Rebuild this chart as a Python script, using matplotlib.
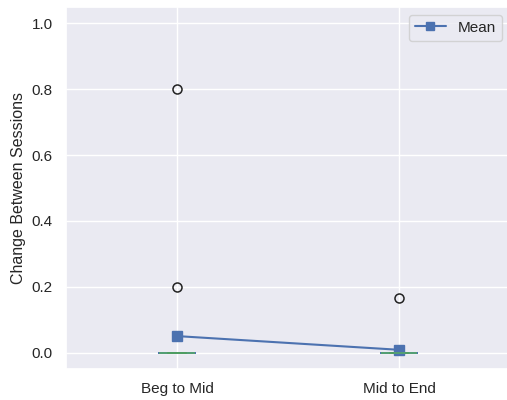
import matplotlib
matplotlib.use("Agg")
import matplotlib.pyplot as plt
import seaborn as sns
import numpy as np

sns.set_theme(style="darkgrid")
plt.rcParams['font.family'] = ['Liberation Sans', 'DejaVu Sans']

categories = ["Beg to Mid", "Mid to End"]
beg_to_mid = [0.0] * 18 + [0.2, 0.8]
mid_to_end = [0.0] * 19 + [1 / 6]
series = [beg_to_mid, mid_to_end]
means = [float(np.mean(s)) for s in series]
ylabel = "Change Between Sessions"

fig = plt.figure(figsize=(5.07, 4.0), dpi=100)
ax = fig.add_axes([66 / 507, 31 / 400, 444 / 507, 362 / 400])

positions = np.arange(1, len(categories) + 1)
ax.boxplot(series, positions=positions, widths=0.16,
           boxprops=dict(color="#4C72B0", linewidth=1.2),
           whiskerprops=dict(color="#4C72B0", linewidth=1.2),
           capprops=dict(color="#2E6B44", linewidth=1.2),
           medianprops=dict(color="#55A868", linewidth=1.2),
           flierprops=dict(marker="o", markerfacecolor="none",
                           markeredgecolor="#222222", markersize=6.5,
                           markeredgewidth=1.1))
ax.plot(positions, means, marker="s", color="#4C72B0", linewidth=1.5,
        markersize=7, label="Mean")

ax.set_xticks(positions)
ax.set_xticklabels(categories, fontsize=11)
ax.set_xlim(0.5, 2.5)
ax.set_ylim(-0.05, 1.05)
ax.set_yticks([0.0, 0.2, 0.4, 0.6, 0.8, 1.0])
ax.set_yticklabels([f"{v:.1f}" for v in [0.0, 0.2, 0.4, 0.6, 0.8, 1.0]], fontsize=11)
ax.set_ylabel(ylabel, fontsize=11.5)
ax.legend(loc="upper right", fontsize=11, markerscale=0.75)

fig.savefig("out.png", dpi=100)
